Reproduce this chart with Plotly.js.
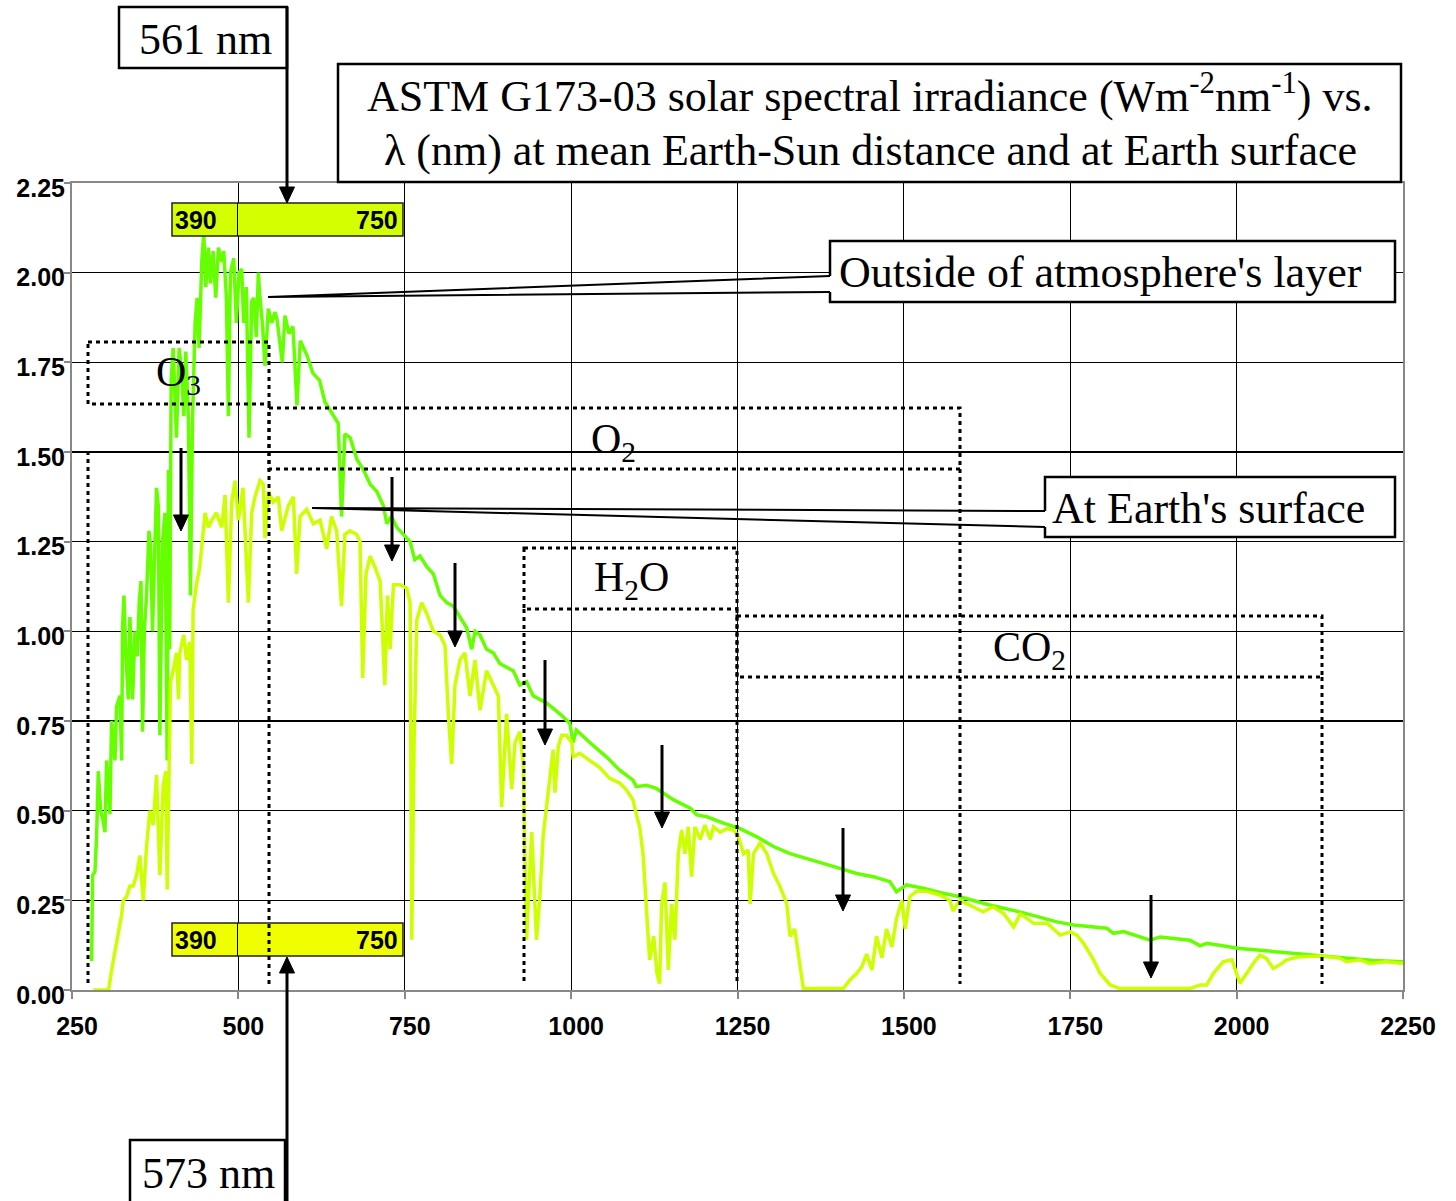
<!DOCTYPE html>
<html>
<head>
<meta charset="utf-8">
<script src="https://cdn.plot.ly/plotly-3.0.1.min.js"></script>
<style>html,body{margin:0;padding:0;background:#fff;}#chart{width:1456px;height:1201px;}</style>
</head>
<body>
<div id="chart"></div>
<script>
// ---- Data ----
const outsideWavelength = [279.5,281,284.5,287,289.5,293,297,299.5,302,307,309.5,312,314.6,317,322,324.6,326,328,331,334.6,337,341,344.6,348,351,353.7,356,358.7,362,365.7,368,371,374.7,377,379.7,382,386,389.7,393,395,396.8,399,402,407,411,415,418,421,425,428,431,435,438,441,445,448,451,455,458,462,466,470,475,478,482,485,488,493,497,501,505,508,512,516,520,523,527,530,532,536,540,545,550,555,558,562.5,566,570,576,582,588,593,603,612,622,630,640,650,655,660,668,678,688,698,708,718,723,730,738,748,758,765,773,783,793,803,813,823,833,843,850.6,855.6,863,873,883,893,903,913,923,933,943,953,963,973,983,998,1003,1008,1028,1053,1073,1093,1098,1113,1128,1154,1179,1189,1204,1229,1254,1279,1304,1329,1354,1379,1404,1429,1454,1479,1489,1504,1529,1554,1584,1629,1680,1730,1755,1805,1815,1830,1870,1885,1930,1945,1955,2005,2055,2105,2155,2205,2250];
const outsideIrradiance = [0.08,0.32,0.33,0.43,0.61,0.50,0.47,0.44,0.64,0.49,0.75,0.68,0.64,0.79,0.82,0.64,1.01,1.10,0.93,0.81,1.04,0.81,1.00,0.93,1.08,1.14,0.72,1.00,1.10,1.28,1.24,1.00,1.24,1.40,1.35,0.71,1.25,1.33,0.64,1.45,0.95,1.70,1.79,1.54,1.79,1.72,1.60,1.78,1.59,1.10,1.58,1.86,1.93,1.79,2.03,2.11,1.96,2.07,1.97,2.06,1.93,2.07,2.03,2.06,1.93,1.60,2.00,2.04,1.86,2.00,2.01,1.86,1.96,1.54,1.92,1.93,1.82,2.00,1.94,1.86,1.74,1.90,1.86,1.89,1.87,1.79,1.75,1.88,1.83,1.85,1.63,1.81,1.77,1.72,1.70,1.64,1.61,1.58,1.32,1.55,1.54,1.48,1.45,1.41,1.39,1.35,1.30,1.32,1.29,1.27,1.25,1.20,1.21,1.18,1.16,1.10,1.08,1.07,1.04,1.01,0.95,1.00,0.99,0.95,0.94,0.91,0.90,0.89,0.85,0.86,0.82,0.81,0.80,0.785,0.77,0.744,0.69,0.725,0.69,0.65,0.613,0.585,0.567,0.571,0.562,0.53,0.507,0.488,0.483,0.465,0.45,0.427,0.40,0.38,0.367,0.353,0.339,0.325,0.316,0.302,0.274,0.293,0.284,0.272,0.26,0.237,0.215,0.19,0.181,0.172,0.158,0.163,0.139,0.148,0.139,0.123,0.13,0.116,0.107,0.098,0.089,0.082,0.079];

const surfaceWavelength = [282,305,309.6,314.6,319.6,324.6,327,332,337,342,347,352,357,362,367,372,377,382,387,391,393,396,398,402,407,410,412,418,422,427,430,432,437,442,450,455,460,467,475,480,485,490,495,500,507,515,520,525,532.5,537.5,540,545,552.5,560,565,575,582.6,587.6,592.6,602.6,612.6,622.7,632.7,640,647.7,655,660,667.7,677.8,682.8,686.8,691.8,697.8,705,713,717,720,724,728,733,743,753,758,760.5,764,768,775.5,783,793,803,810.5,815.5,820.5,825.5,833,840.5,848,855.6,863,873,883,890.6,895.6,903,910.7,915.7,923,928,933,940.7,948,953,958,963,968,973,975.7,980.8,985.8,993,1001,1003,1013,1028,1043,1058,1073,1083,1093,1098,1103,1108,1113,1118,1124,1129,1133,1136,1141,1146,1151,1156,1161,1166,1171,1176,1181,1186,1194,1201,1209,1214,1224,1234,1244,1251,1259,1266,1269,1274,1284,1294,1304,1314,1324,1329,1336,1344,1349,1409,1419,1429,1437,1444,1452,1459,1467,1474,1482,1489,1497,1502,1509,1519,1534,1554,1569,1574,1584,1604,1619,1634,1650,1665,1675,1695,1715,1735,1750,1760,1770,1785,1795,1810,1825,1930,1945,1955,1965,1980,1993,1998,2005,2015,2025,2035,2045,2055,2065,2075,2095,2125,2155,2165,2185,2200,2225,2250];
const surfaceIrradiance = [0,0,0.056,0.11,0.15,0.21,0.25,0.26,0.29,0.29,0.32,0.375,0.25,0.40,0.50,0.46,0.60,0.32,0.57,0.61,0.28,0.64,0.86,0.89,0.94,0.81,0.94,0.99,0.92,0.97,0.63,1.06,1.13,1.18,1.33,1.29,1.31,1.33,1.29,1.38,1.08,1.36,1.42,1.31,1.40,1.08,1.33,1.375,1.42,1.41,1.26,1.39,1.36,1.375,1.28,1.35,1.375,1.16,1.32,1.34,1.30,1.31,1.23,1.32,1.28,1.07,1.27,1.28,1.27,1.25,0.87,1.16,1.21,1.18,1.14,0.98,0.85,1.10,0.95,1.13,1.13,1.12,1.08,0.14,0.69,1.03,1.08,1.05,1.00,0.99,0.96,0.77,0.63,0.85,0.92,0.94,0.82,0.92,0.78,0.89,0.85,0.82,0.51,0.77,0.56,0.69,0.72,0.63,0.14,0.44,0.14,0.26,0.43,0.51,0.59,0.67,0.55,0.68,0.71,0.71,0.69,0.65,0.66,0.64,0.62,0.59,0.577,0.558,0.53,0.49,0.455,0.38,0.24,0.084,0.15,0.046,0.018,0.24,0.30,0.056,0.24,0.14,0.38,0.446,0.38,0.455,0.316,0.455,0.42,0.46,0.42,0.455,0.44,0.45,0.446,0.43,0.38,0.39,0.24,0.38,0.41,0.38,0.325,0.288,0.24,0.15,0.17,0.065,0.004,0.004,0.028,0.046,0.065,0.10,0.056,0.15,0.09,0.17,0.12,0.20,0.25,0.17,0.26,0.275,0.275,0.265,0.25,0.22,0.25,0.232,0.218,0.232,0.213,0.176,0.213,0.186,0.186,0.153,0.162,0.153,0.13,0.084,0.046,0.014,0.004,0.004,0.014,0.014,0.046,0.079,0.084,0.056,0.019,0.046,0.074,0.097,0.088,0.06,0.07,0.084,0.093,0.095,0.089,0.079,0.084,0.074,0.079,0.074];

const xTickValues = [250,500,750,1000,1250,1500,1750,2000,2250];
const yTickValues = [0,0.25,0.5,0.75,1.0,1.25,1.5,1.75,2.0,2.25];

// ---- Layout helpers (pixel -> paper) ----
const L = 72, R = 1403, T = 183, B = 990;
const PX = p => (p - L) / (R - L);
const PY = p => (B - p) / (B - T);
const shapes = [];
const annotations = [];
function rectS(x0, y0, x1, y1, fill, lc, lw, dash) {
  shapes.push({type:'rect', xref:'paper', yref:'paper', x0:PX(x0), x1:PX(x1), y0:PY(y0), y1:PY(y1),
    fillcolor: fill || 'rgba(0,0,0,0)', line:{color: lc || 'rgba(0,0,0,0)', width: lw || 0, dash: dash || 'solid'}, layer:'above'});
}
function lineS(x0, y0, x1, y1, lc, lw, dash) {
  shapes.push({type:'line', xref:'paper', yref:'paper', x0:PX(x0), x1:PX(x1), y0:PY(y0), y1:PY(y1),
    line:{color: lc, width: lw, dash: dash || 'solid'}, layer:'above'});
}
function pathS(pts, closed, fill, lc, lw) {
  let d = pts.map((p, i) => (i ? 'L' : 'M') + PX(p[0]).toFixed(5) + ',' + PY(p[1]).toFixed(5)).join(' ');
  if (closed) d += ' Z';
  shapes.push({type:'path', xref:'paper', yref:'paper', path:d, fillcolor: fill || 'rgba(0,0,0,0)',
    line:{color: lc || 'rgba(0,0,0,0)', width: lw || 0}, layer:'above'});
}
function arrowS(x, yFrom, yTip) {
  const dir = yTip > yFrom ? 1 : -1;
  const hl = 16, hw = 7.5;
  lineS(x, yFrom, x, yTip - dir * (hl - 2), '#000', 3);
  pathS([[x - hw, yTip - dir * hl], [x + hw, yTip - dir * hl], [x, yTip]], true, '#000', '#000', 1);
}
const SERIF = 'Liberation Serif, Times New Roman, serif';
const SANS = 'Liberation Sans, Arial, sans-serif';
function textA(px, py, text, size, xanchor, bold, fam) {
  const font = {family: fam || SERIF, size:size, color:'#000'};
  if (bold) font.weight = 700;
  annotations.push({xref:'paper', yref:'paper', x:PX(px), y:PY(py), text:text, showarrow:false,
    xanchor: xanchor || 'center', yanchor:'middle', font:font});
}
const DOT = '4px,4px';

// Bars 390-750
rectS(172, 203, 403, 236, '#D4FF00', '#222', 1.5);
rectS(172, 923, 403, 956, '#F0FF00', '#222', 1.5);
lineS(237.5, 203, 237.5, 236, '#000', 1);
lineS(237.5, 923, 237.5, 956, '#000', 1);
textA(173, 220, '390', 25, 'left', true, SANS);
textA(400, 220, '750', 25, 'right', true, SANS);
textA(173, 940, '390', 25, 'left', true, SANS);
textA(400, 940, '750', 25, 'right', true, SANS);

// Dotted absorption boxes
rectS(88, 342, 269, 404, null, '#000', 3, DOT);
lineS(88, 451, 88, 984, '#000', 3, DOT);
lineS(269, 404, 269, 984, '#000', 3, DOT);
rectS(269, 408, 960, 469, null, '#000', 3, DOT);
lineS(960, 469, 960, 984, '#000', 3, DOT);
rectS(524, 548, 737, 609, null, '#000', 3, DOT);
lineS(524, 609, 524, 984, '#000', 3, DOT);
lineS(737, 609, 737, 984, '#000', 3, DOT);
rectS(737, 616, 1322, 677, null, '#000', 3, DOT);
lineS(1322, 677, 1322, 984, '#000', 3, DOT);
textA(178, 375, 'O<sub>3</sub>', 42);
textA(613, 442, 'O<sub>2</sub>', 42);
textA(631, 580, 'H<sub>2</sub>O', 42);
textA(1029, 650, 'CO<sub>2</sub>', 42);

// Down arrows
[[181,448,531],[392,477,561],[455,563,647],[545,660,745],[662,745,828],[843,828,911],[1151,895,978]].forEach(a => arrowS(a[0], a[1], a[2]));

// Title box
rectS(338, 64, 1401, 182, '#fff', '#000', 2.5);
textA(870, 94, 'ASTM G173-03 solar spectral irradiance (Wm<sup>-2</sup>nm<sup>-1</sup>) vs.', 44);
textA(870, 150, '\u03bb (nm) at mean Earth-Sun distance and at Earth surface', 44);

// 561 nm box + arrow
rectS(119, 7, 287, 68, '#fff', '#000', 2.5);
textA(205, 39, '561 nm', 44);
arrowS(287, 7, 203);
// 573 nm box + arrow
rectS(130, 1140, 285, 1210, '#fff', '#000', 2.5);
textA(208, 1173, '573 nm', 44);
arrowS(287, 1201, 957);

// Callouts
rectS(830, 241, 1395, 302, '#fff', null, 0);
pathS([[830,276],[830,241],[1395,241],[1395,302],[830,302],[830,292]], false, null, '#000', 2.5);
pathS([[830,276],[268,297],[830,292]], false, null, '#000', 2);
textA(837, 272, "Outside of atmosphere's layer", 44, 'left');

rectS(1045, 477, 1395, 537, '#fff', null, 0);
pathS([[1045,511],[1045,477],[1395,477],[1395,537],[1045,537],[1045,527]], false, null, '#000', 2.5);
pathS([[1045,511],[312,508],[1045,527]], false, null, '#000', 2);
textA(1050, 508, "At Earth's surface", 44, 'left');

const traces = [
  {x: outsideWavelength, y: outsideIrradiance, type:'scatter', mode:'lines', name:"Outside of atmosphere's layer",
   line:{color:'#66FF00', width:3.5}, hoverinfo:'skip'},
  {x: surfaceWavelength, y: surfaceIrradiance, type:'scatter', mode:'lines', name:"At Earth's surface",
   line:{color:'#CCFF00', width:3.5}, hoverinfo:'skip'}
];

const tickFont = {family:SANS, size:25, color:'#000', weight:700};
const layout = {
  width:1456, height:1201,
  margin:{l:L, r:1456-R, t:T, b:1201-B, pad:0},
  paper_bgcolor:'#fff', plot_bgcolor:'#fff',
  showlegend:false,
  font:{family:SERIF},
  xaxis:{range:[250,2250], tickvals:xTickValues, ticktext:xTickValues.map(String), showgrid:true, gridcolor:'#000', gridwidth:1.2,
    zeroline:false, showline:true, linecolor:'#888', linewidth:2, mirror:true, ticks:'outside', ticklen:7, tickcolor:'#888', tickwidth:2,
    tickfont:tickFont, ticklabelstandoff:6, ticklabelshift:5},
  yaxis:{range:[0,2.25], tickvals:yTickValues, ticktext:yTickValues.map(v => v.toFixed(2)), showgrid:true, gridcolor:'#000', gridwidth:1.2,
    zeroline:false, showline:true, linecolor:'#888', linewidth:2, mirror:true, ticks:'outside', ticklen:6, tickcolor:'#888', tickwidth:2,
    tickfont:tickFont, ticklabelstandoff:-6, ticklabelshift:5},
  shapes:shapes,
  annotations:annotations
};
Plotly.newPlot('chart', traces, layout, {staticPlot:true, displayModeBar:false});
</script>
</body>
</html>
